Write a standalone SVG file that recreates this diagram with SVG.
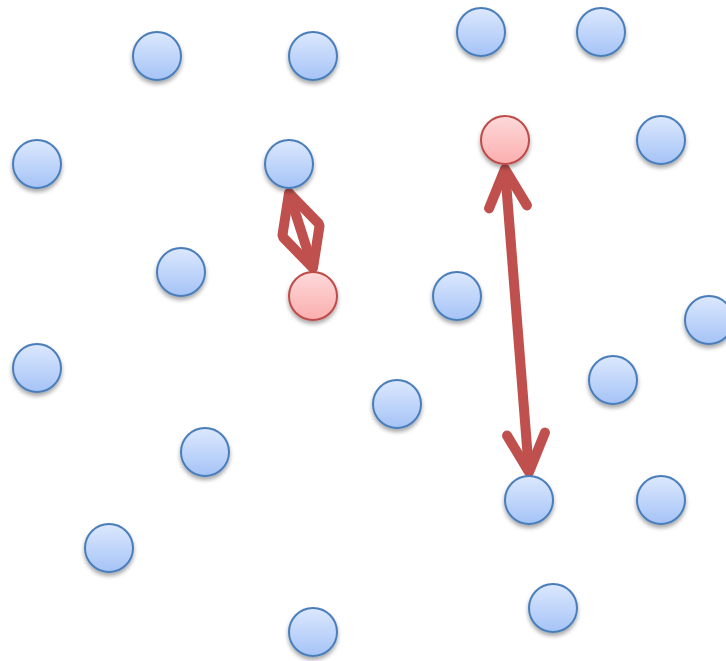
<svg xmlns="http://www.w3.org/2000/svg" width="726" height="661" viewBox="0 0 726 661">
<defs>
<linearGradient id="gb" x1="0" y1="0" x2="0" y2="1"><stop offset="0" stop-color="#dce8fd"/><stop offset="1" stop-color="#a5c3f7"/></linearGradient>
<linearGradient id="gr" x1="0" y1="0" x2="0" y2="1"><stop offset="0" stop-color="#fdd9d9"/><stop offset="1" stop-color="#fbaeae"/></linearGradient>
<filter id="sh" x="-30%" y="-30%" width="160%" height="170%"><feDropShadow dx="0" dy="3" stdDeviation="2" flood-color="#000" flood-opacity="0.35"/></filter>
<marker id="ah" markerUnits="userSpaceOnUse" markerWidth="80" markerHeight="80" viewBox="-60 -40 80 80" refX="0" refY="0" orient="auto-start-reverse" overflow="visible">
<path d="M -38 -19 L 0 0 L -38 19" fill="none" stroke="#c0504d" stroke-width="10" stroke-linecap="round" stroke-linejoin="round"/>
</marker>
<style>
.b{fill:url(#gb);stroke:#4a7ebb;stroke-width:2;filter:url(#sh)}
.r{fill:url(#gr);stroke:#be4b48;stroke-width:2;filter:url(#sh)}
.c{fill:none;stroke:#c0504d;stroke-width:10;stroke-linecap:butt;marker-start:url(#ah);marker-end:url(#ah)}
</style>
</defs>
<g id="connectors">
<line class="c" x1="289" y1="193" x2="313" y2="268"/>
<line class="c" x1="505" y1="169" x2="529" y2="472"/>
</g>
<g id="n1"><circle class="b" cx="157" cy="56" r="24"/></g>
<g id="n2"><circle class="b" cx="313" cy="56" r="24"/></g>
<g id="n3"><circle class="b" cx="481" cy="32" r="24"/></g>
<g id="n4"><circle class="b" cx="601" cy="32" r="24"/></g>
<g id="n5"><circle class="b" cx="37" cy="164" r="24"/></g>
<g id="n6"><circle class="b" cx="289" cy="164" r="24"/></g>
<g id="n7"><circle class="r" cx="505" cy="140" r="24"/></g>
<g id="n8"><circle class="b" cx="661" cy="140" r="24"/></g>
<g id="n9"><circle class="b" cx="181" cy="272" r="24"/></g>
<g id="n10"><circle class="r" cx="313" cy="296" r="24"/></g>
<g id="n11"><circle class="b" cx="457" cy="296" r="24"/></g>
<g id="n12"><circle class="b" cx="709" cy="320" r="24"/></g>
<g id="n13"><circle class="b" cx="37" cy="368" r="24"/></g>
<g id="n14"><circle class="b" cx="613" cy="380" r="24"/></g>
<g id="n15"><circle class="b" cx="397" cy="404" r="24"/></g>
<g id="n16"><circle class="b" cx="205" cy="452" r="24"/></g>
<g id="n17"><circle class="b" cx="529" cy="500" r="24"/></g>
<g id="n18"><circle class="b" cx="661" cy="500" r="24"/></g>
<g id="n19"><circle class="b" cx="109" cy="548" r="24"/></g>
<g id="n20"><circle class="b" cx="553" cy="608" r="24"/></g>
<g id="n21"><circle class="b" cx="313" cy="632" r="24"/></g>
</svg>
